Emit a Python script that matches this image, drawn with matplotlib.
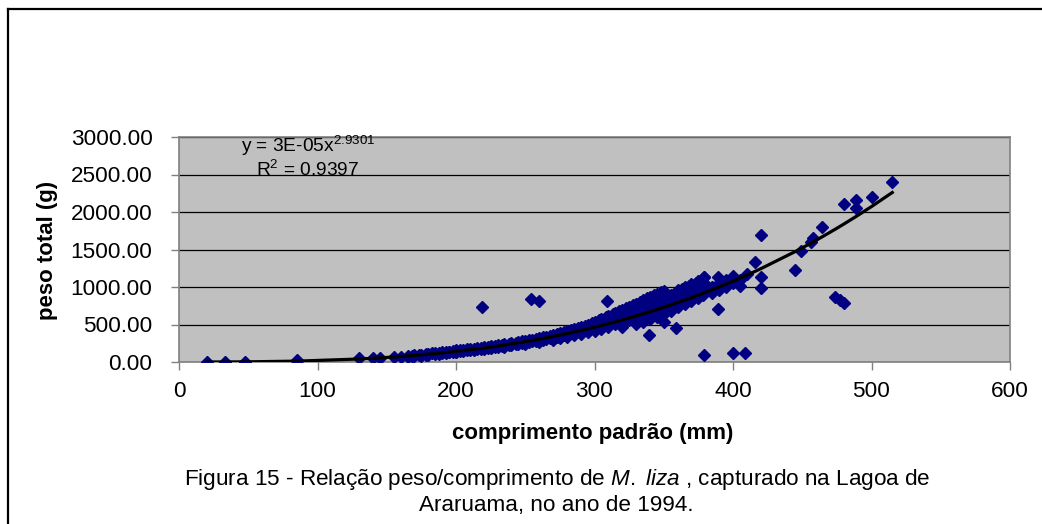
import numpy as np
import matplotlib
matplotlib.use('Agg')
import matplotlib.pyplot as plt
from matplotlib.lines import Line2D

plt.rcParams['font.family'] = ['Liberation Sans', 'DejaVu Sans']
plt.rcParams['mathtext.fontset'] = 'custom'
plt.rcParams['mathtext.rm'] = 'Liberation Sans'
plt.rcParams['mathtext.it'] = 'Liberation Sans:italic'

# comprimento padrao (mm) / peso total (g), M. liza, Lagoa de Araruama 1994
length_mm = [
    20, 33, 48, 85, 85,
    130, 140, 145, 155, 160,
    165, 165, 168, 170, 170, 173, 175, 175, 178, 178, 180, 180, 183, 185, 185,
    188, 188, 190, 190, 193, 193, 195, 195, 198, 198, 200, 200, 200,
    203, 203, 205, 205, 208, 208, 210, 210, 213, 213, 215, 215, 218, 218,
    220, 220, 223, 223, 225, 225, 228, 228, 230, 230, 233, 233, 235, 235, 235,
    238, 238, 240, 240, 243, 243, 245, 245, 248, 248, 250, 250, 250,
    253, 253, 255, 255, 258, 258, 260, 260, 260, 263, 263, 265, 265, 268, 268,
    270, 270, 270, 273, 273, 275, 275, 275, 278, 278, 280, 280, 280,
    283, 283, 285, 285, 285, 288, 288, 290, 290, 290, 293, 293, 295, 295, 295,
    298, 298, 300, 300, 300, 303, 303, 305, 305, 305, 308, 308, 310, 310, 310,
    313, 313, 315, 315, 315, 318, 318, 320, 320, 320, 320, 323, 323, 325, 325, 325,
    328, 328, 330, 330, 330, 330, 333, 333, 335, 335, 335, 335, 338, 338,
    340, 340, 340, 340, 343, 343, 345, 345, 345, 345, 348, 348, 350, 350, 350, 350,
    353, 353, 355, 355, 355, 358, 358, 360, 360, 360, 363, 363, 365, 365, 365,
    368, 368, 370, 370, 370, 373, 373, 375, 375, 375, 378, 378, 380, 380,
    385, 385, 390, 390, 395, 395, 400, 400, 405, 405, 410,
    219, 254, 260, 309, 339, 350, 359, 379, 379, 379, 379, 389, 389, 400,
    409, 416, 420, 420, 420, 445, 449, 456, 458, 464, 474, 477, 480,
    480, 489, 489, 500, 515,
]
weight_g = [
    0, 0, 0, 15, 30,
    60, 60, 50, 70, 70,
    70, 85, 80, 90, 75, 95, 100, 85, 105, 95, 110, 100, 115, 120, 105,
    125, 110, 130, 120, 135, 125, 140, 130, 150, 135, 155, 140, 130,
    160, 150, 165, 150, 170, 160, 175, 160, 180, 165, 185, 170, 190, 175,
    200, 180, 205, 185, 210, 190, 215, 200, 225, 205, 230, 210, 235, 215, 200,
    245, 225, 250, 230, 255, 235, 265, 240, 275, 250, 285, 260, 240,
    290, 265, 300, 275, 310, 280, 320, 290, 270, 330, 300, 340, 310, 350, 320,
    365, 330, 300, 375, 340, 390, 350, 320, 400, 360, 415, 380, 340,
    430, 390, 440, 400, 360, 455, 410, 470, 420, 380, 480, 440, 500, 450, 400,
    520, 460, 540, 480, 420, 560, 500, 580, 510, 440, 600, 530, 620, 550, 470,
    640, 570, 660, 590, 510, 680, 600, 700, 620, 540, 470, 720, 640, 740, 650, 560,
    760, 670, 780, 690, 600, 510, 800, 710, 830, 720, 620, 540, 850, 740,
    870, 760, 660, 580, 890, 780, 910, 800, 700, 600, 930, 820, 950, 840, 740, 640,
    880, 760, 900, 780, 680, 920, 800, 960, 850, 740, 980, 870, 1000, 890, 780,
    1020, 900, 1040, 920, 820, 1060, 940, 1080, 960, 850, 1000, 900, 1040, 950,
    1000, 920, 1050, 960, 1100, 1000, 1150, 1050, 1100, 1020, 1180,
    740, 840, 810, 817, 360, 538, 458, 93, 1133, 1130, 1060, 1140, 702, 116,
    116, 1338, 1698, 1133, 987, 1231, 1480, 1604, 1649, 1800, 871, 830, 782,
    2102, 2160, 2049, 2200, 2396,
]

# power trendline; coefficient shown rounded in the label
trend_a = 2.56e-05
trend_b = 2.9301
trend_r2 = 0.9397

x = np.array(length_mm, dtype=float)
y = np.array(weight_g, dtype=float)
xt = np.unique(x)
yt = trend_a * xt ** trend_b

fig = plt.figure(figsize=(10.42, 5.24), dpi=100)
ax = fig.add_axes([179 / 1042, 1 - 362 / 524, 831 / 1042, 225 / 524])
ax.set_facecolor('#C0C0C0')

ax.plot(x, y, linestyle='none', marker='D', markersize=6.5,
        markerfacecolor='#000080', markeredgecolor='#000080', zorder=3)
ax.plot(xt, yt, color='black', linewidth=2.3, zorder=4)

ax.set_xlim(0, 600)
ax.set_ylim(0, 3000)
ax.set_xticks(np.arange(0, 601, 100))
ax.set_yticks(np.arange(0, 3001, 500))
ax.set_yticklabels(['%.2f' % v for v in np.arange(0, 3001, 500)])
ax.yaxis.grid(True, color='black', linewidth=0.9)
ax.set_axisbelow(True)
for s in ax.spines.values():
    s.set_color('#808080')
    s.set_linewidth(1.2)
ax.tick_params(axis='both', direction='out', length=6, width=1,
               color='#808080', labelsize=16.2)
ax.tick_params(axis='x', pad=8)
ax.tick_params(axis='y', pad=13)

eq = 'y = %.0Ex$^{\\mathregular{%.4f}}$' % (trend_a, trend_b)
ax.text(0.155, 0.933, eq, transform=ax.transAxes, ha='center',
        va='baseline', fontsize=13.8, zorder=5)
ax.text(0.155, 0.827, 'R$^{\\mathregular{2}}$ = %.4f' % trend_r2,
        transform=ax.transAxes, ha='center', va='baseline', fontsize=13.8,
        zorder=5)

fig.text(47 / 1042, 1 - 250 / 524, 'peso total (g)', rotation=90,
         ha='center', va='center', fontsize=16, fontweight='bold')
fig.text(593 / 1042, 1 - 433 / 524, 'comprimento padrão (mm)',
         ha='center', va='center', fontsize=16, fontweight='bold')

fig.text(557 / 1042, 1 - 479 / 524,
         'Figura 15 - Relação peso/comprimento de $\\mathit{M.\\ liza}$ , '
         'capturado na Lagoa de',
         ha='center', va='center', fontsize=16.2)
fig.text(556 / 1042, 1 - 505 / 524, 'Araruama, no ano de 1994.',
         ha='center', va='center', fontsize=16.2)

# outer frame (left and top edges)
fig.add_artist(Line2D([8 / 1042, 8 / 1042], [0, 1 - 9 / 524],
                      transform=fig.transFigure, color='black', linewidth=1.6))
fig.add_artist(Line2D([8 / 1042, 1], [1 - 9 / 524, 1 - 9 / 524],
                      transform=fig.transFigure, color='black', linewidth=1.6))

fig.savefig('out.png', dpi=100)
